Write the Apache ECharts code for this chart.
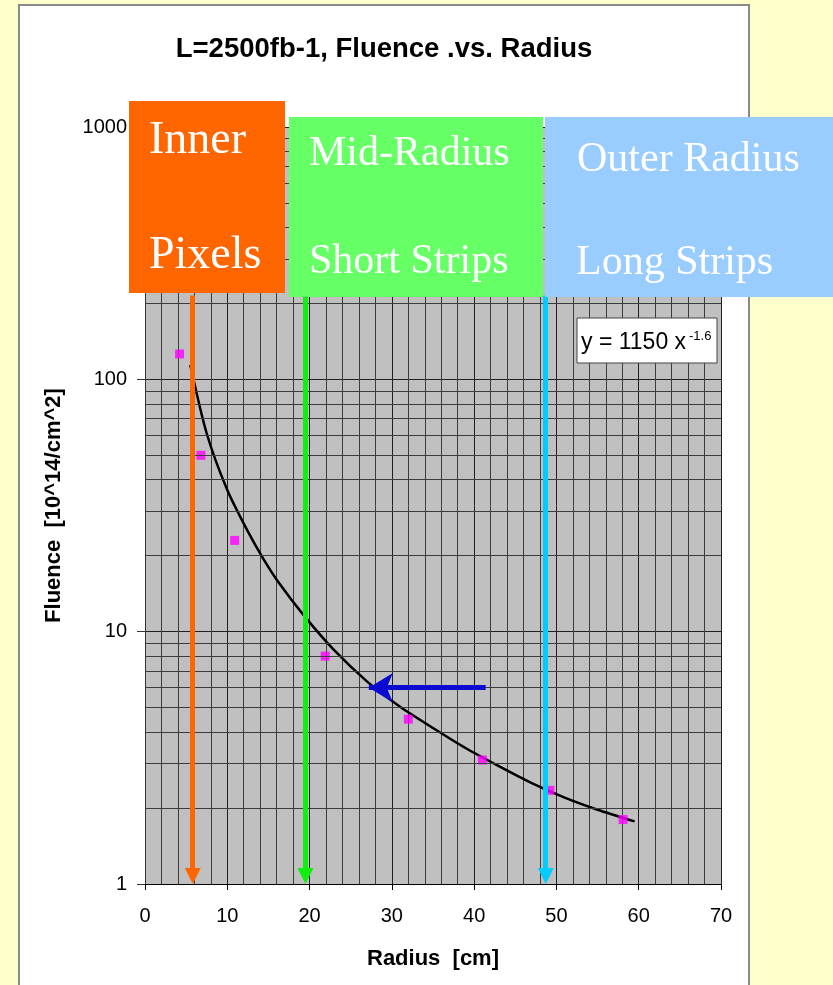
<!DOCTYPE html>
<html>
<head>
<meta charset="utf-8">
<script src="https://cdn.jsdelivr.net/npm/echarts@6/dist/echarts.min.js"></script>
<style>
html,body{margin:0;padding:0;background:#FFFFCC;}
#c{width:833px;height:985px;}
</style>
</head>
<body>
<div id="c"></div>
<script>
// ---- data ----
const radius  = [4.2, 6.8, 10.9, 21.9, 32, 41, 49.2, 58.1];
const fluence = [126, 50, 23, 8.0, 4.5, 3.1, 2.35, 1.8];

const fitRadius  = [5.5, 7.5, 10, 12.4, 14.4, 16.4, 19.3, 22.9, 27, 31, 35, 39, 43, 47, 51, 55, 59.5];
const fitFluence = [114, 61, 36.4, 25.3, 19.4, 15.4, 11.6, 8.5, 6.34, 5.04, 4.15, 3.45, 2.93, 2.51, 2.2, 1.97, 1.77];

const regionNames  = [['Inner', 'Pixels'], ['Mid-Radius', 'Short Strips'], ['Outer Radius', 'Long Strips']];
const regionRadius = [5.8, 19.5, 48.7];
const regionArrowTop = 215;
const regionArrowEnd = 1.075;
const arrowLevel = 6;
const arrowFrom = 41.4;
const arrowTo = 27.2;

const xTicks = [0, 10, 20, 30, 40, 50, 60, 70];
const yTicks = [1, 10, 100, 1000];
const yMinor = [2,3,4,5,6,7,8,9, 20,30,40,50,60,70,80,90, 200,300,400,500,600,700,800,900];

const title = 'L=2500fb-1, Fluence .vs. Radius';
const xName = 'Radius  [cm]';
const yName = 'Fluence  [10^14/cm^2]';
const fitText = 'y = 1150 x';
const fitExp = '-1.6';

// ---- styles ----
const regionFill = ['#FF6600', '#66FF66', '#99CCFF'];
const regionLine = ['#FF6600', '#11EE11', '#00CCFF'];

const chart = echarts.init(document.getElementById('c'), null, {renderer: 'canvas'});

const scatterData = radius.map((r, i) => [r, fluence[i]]);
const fitData = fitRadius.map((r, i) => [r, fitFluence[i]]);

const arrowLines = regionRadius.map((r, i) => [
  {coord: [r, regionArrowTop], symbol: 'none', lineStyle: {color: regionLine[i], width: 5, type: 'solid'}},
  {coord: [r, regionArrowEnd], symbol: 'triangle', symbolSize: [16, 16]}
]);
arrowLines.push([
  {coord: [arrowFrom, arrowLevel], symbol: 'none', lineStyle: {color: '#0A0AD0', width: 5, type: 'solid'}},
  {coord: [arrowTo, arrowLevel], symbol: 'arrow', symbolSize: [22, 24]}
]);

const option = {
  animation: false,
  backgroundColor: '#FFFFCC',
  textStyle: {fontFamily: 'Liberation Sans, Arial, sans-serif'},
  grid: {left: 145, top: 127, width: 576, height: 757, show: true, backgroundColor: '#C0C0C0', borderWidth: 0, containLabel: false},
  xAxis: {
    type: 'value', min: xTicks[0], max: xTicks[xTicks.length - 1], interval: 10,
    name: xName, nameLocation: 'middle', nameGap: 64,
    nameTextStyle: {fontSize: 22, fontWeight: 'bold', color: '#000', fontFamily: 'Liberation Sans'},
    axisLine: {show: true, onZero: false, lineStyle: {color: '#000', width: 1}},
    axisTick: {show: true, length: 6, lineStyle: {color: '#000'}},
    axisLabel: {fontSize: 20, color: '#000', margin: 22, fontFamily: 'Liberation Sans'},
    splitLine: {show: true, lineStyle: {color: '#202020', width: 1}},
    minorTick: {show: false, splitNumber: 5},
    minorSplitLine: {show: true, lineStyle: {color: '#3c3c3c', width: 1}}
  },
  yAxis: {
    type: 'log', logBase: 10, min: yTicks[0], max: yTicks[yTicks.length - 1],
    name: yName, nameLocation: 'middle', nameGap: 80,
    nameTextStyle: {fontSize: 22, fontWeight: 'bold', color: '#000', fontFamily: 'Liberation Sans'},
    axisLine: {show: true, lineStyle: {color: '#333', width: 1}},
    axisTick: {show: true, length: 8, lineStyle: {color: '#333'}},
    axisLabel: {fontSize: 20, color: '#000', margin: 18, fontFamily: 'Liberation Sans',
      formatter: v => String(Math.round(v))},
    splitLine: {show: true, lineStyle: {color: '#202020', width: 1}}
  },
  series: [
    {
      type: 'line', data: [], z: 1, silent: true,
      markLine: {
        silent: true, symbol: ['none', 'none'], label: {show: false},
        lineStyle: {color: '#3c3c3c', width: 1, type: 'solid'},
        emphasis: {disabled: true},
        data: yMinor.map(v => ({yAxis: v}))
      }
    },
    {
      type: 'line', data: fitData, z: 3, smooth: 0.25,
      showSymbol: false, symbol: 'none',
      lineStyle: {color: '#000', width: 2.5}
    },
    {
      type: 'scatter', data: scatterData, z: 4, symbol: 'rect', symbolSize: 9,
      itemStyle: {color: '#FF00FF'}
    },
    {
      type: 'line', data: [], z: 5, silent: true,
      markLine: {
        silent: true, symbol: ['none', 'triangle'], symbolSize: [16, 16],
        label: {show: false}, emphasis: {disabled: true},
        data: arrowLines
      }
    }
  ],
  graphic: [
    {type: 'rect', z: -10, silent: true, shape: {x: 19, y: 5, width: 730, height: 990},
      style: {fill: '#FFFFFF', stroke: '#8a8a8a', lineWidth: 2}},
    {type: 'text', z: 50, style: {text: title, x: 384, y: 49, align: 'center', verticalAlign: 'middle',
      font: 'bold 27.5px "Liberation Sans", Arial', fill: '#000'}},
    {type: 'rect', z: 50, shape: {x: 577, y: 318, width: 140, height: 45},
      style: {fill: '#FFFFFF', stroke: '#444', lineWidth: 1}},
    {type: 'text', z: 51, style: {text: fitText, x: 581, y: 343, align: 'left', verticalAlign: 'middle',
      font: '23px "Liberation Sans", Arial', fill: '#000'}},
    {type: 'text', z: 51, style: {text: fitExp, x: 689, y: 336, align: 'left', verticalAlign: 'middle',
      font: '13px "Liberation Sans", Arial', fill: '#000'}},
    {type: 'rect', z: 60, shape: {x: 129, y: 101, width: 156, height: 192}, style: {fill: regionFill[0]}},
    {type: 'rect', z: 60, shape: {x: 289, y: 117, width: 254, height: 180}, style: {fill: regionFill[1]}},
    {type: 'rect', z: 60, shape: {x: 545, y: 117, width: 300, height: 180}, style: {fill: regionFill[2]}},
    {type: 'text', z: 61, style: {text: regionNames[0][0], x: 149, y: 141, verticalAlign: 'middle', font: '46px "Liberation Serif", "Times New Roman"', fill: '#fff'}},
    {type: 'text', z: 61, style: {text: regionNames[0][1], x: 149, y: 256, verticalAlign: 'middle', font: '46px "Liberation Serif", "Times New Roman"', fill: '#fff'}},
    {type: 'text', z: 61, style: {text: regionNames[1][0], x: 309, y: 154, verticalAlign: 'middle', font: '42px "Liberation Serif", "Times New Roman"', fill: '#fff'}},
    {type: 'text', z: 61, style: {text: regionNames[1][1], x: 309, y: 262, verticalAlign: 'middle', font: '42px "Liberation Serif", "Times New Roman"', fill: '#fff'}},
    {type: 'text', z: 61, style: {text: regionNames[2][0], x: 577, y: 160, verticalAlign: 'middle', font: '42px "Liberation Serif", "Times New Roman"', fill: '#fff'}},
    {type: 'text', z: 61, style: {text: regionNames[2][1], x: 576, y: 263, verticalAlign: 'middle', font: '42px "Liberation Serif", "Times New Roman"', fill: '#fff'}}
  ]
};
chart.setOption(option);
</script>
</body>
</html>
